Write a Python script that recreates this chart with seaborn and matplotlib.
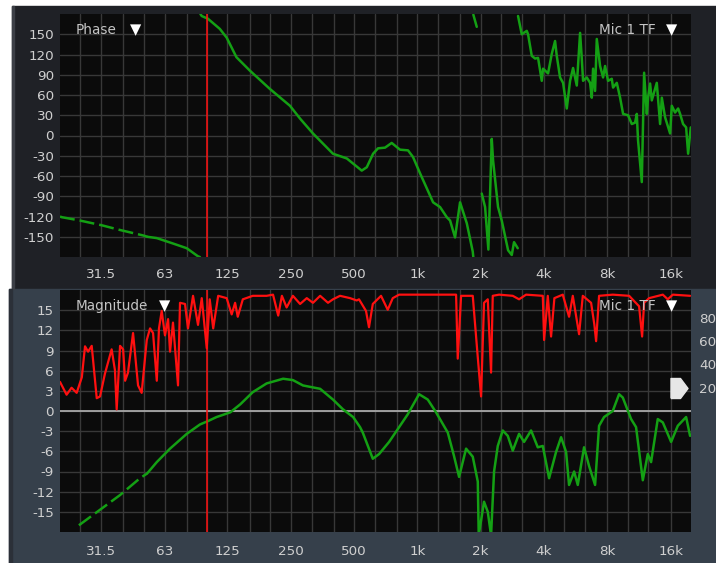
import numpy as np
import pandas as pd
import matplotlib.pyplot as plt
import seaborn as sns
from matplotlib.patches import Rectangle
from matplotlib.ticker import NullFormatter
from matplotlib.transforms import blended_transform_factory


# Axis layout values
freq_ticks = [31.5, 63, 125, 250, 500, 1000, 2000, 4000, 8000, 16000]
freq_labels = ["31.5", "63", "125", "250", "500", "1k", "2k", "4k", "8k", "16k"]
third_octaves = [25, 40, 50, 80, 100, 160, 200, 315, 400, 630, 800, 1250,
                 1600, 2500, 3150, 5000, 6300, 10000, 12500]
phase_ticks = [150, 120, 90, 60, 30, 0, -30, -60, -90, -120, -150]
mag_ticks = [15, 12, 9, 6, 3, 0, -3, -6, -9, -12, -15]
coh_ticks = [20, 40, 60, 80]
cursor_freq = 100
coh_marker_level = 20

# Phase trace (wrapped), one list pair per drawn piece
phase_a_freq = [20, 20.4, 24.9, 31.6, 38.6, 49.6, 52]
phase_a_deg = [-120, -121, -126, -133, -140, -148, -150]
phase_b_freq = [52, 57.7, 68.9, 80.1, 90.6, 92.5]
phase_b_deg = [-150, -152, -160, -167, -179, -180]
phase_c_freq = [93, 94.4, 101, 115, 124, 138, 160, 199, 248, 277, 319, 397,
                462, 544, 575, 616, 650, 702, 755, 827, 903, 954, 1030, 1188,
                1282, 1380, 1431, 1511, 1596, 1718, 1834, 1845]
phase_c_deg = [180, 177, 173, 158, 145, 116, 96, 69, 44, 25, 3, -27,
               -34, -52, -47, -27, -19, -18, -11, -21, -22, -32, -56, -99,
               -106, -121, -126, -151, -99, -130, -172, -180]
phase_d_freq = [1846, 1916]
phase_d_deg = [179, 161]
phase_e_freq = [2024, 2099, 2176, 2258, 2291, 2419, 2519, 2700, 2811, 2882, 3001]
phase_e_deg = [-86, -106, -169, -5, -37, -106, -126, -170, -177, -158, -167]
phase_f_freq = [3011, 3136, 3313, 3360, 3499, 3628, 3749, 3904, 3960, 4183,
                4356, 4516, 4601, 4770, 4930, 5133, 5322, 5500, 5728, 5939,
                6050, 6137, 6391, 6626, 6750, 6847, 6998, 7130, 7392, 7638,
                7807, 8068, 8402, 8523, 8876, 9203, 9509, 10040, 10460, 10840,
                11050, 11200, 11670, 11970, 12330, 12500, 12780, 13020, 13750, 14260,
                14530, 15060, 15910, 16210, 16800, 17370, 17750, 18340, 18960, 19380,
                19950]
phase_f_deg = [177, 150, 155, 150, 118, 114, 115, 81, 99, 92,
               121, 140, 118, 86, 78, 40, 81, 100, 74, 152,
               114, 81, 86, 78, 56, 99, 66, 143, 103, 86,
               103, 81, 84, 71, 78, 56, 32, 30, 17, 19,
               32, -7, -69, 93, 32, 56, 77, 52, 78, 17,
               56, 27, 3, 44, 34, 40, 32, 17, 12, -27,
               12]

# Magnitude trace (dB)
mag_low_freq = [24.6, 31.6, 38.6, 48.0, 51.9]
mag_low_db = [-17, -14.5, -12.5, -10, -9.3]
mag_freq = [51.9, 57.7, 66.7, 80.1, 92.6, 101, 111, 129, 144, 165,
            192, 230, 256, 286, 345, 397, 443, 495, 534, 550,
            614, 658, 734, 819, 900, 1019, 1121, 1227, 1395, 1494,
            1579, 1705, 1834, 1938, 1958, 2075, 2162, 2241, 2316, 2412,
            2547, 2691, 2842, 3045, 3216, 3473, 3737, 3948, 4230, 4565,
            4824, 5095, 5264, 5563, 5790, 6203, 6555, 6998, 7311, 7723,
            8494, 9102, 9478, 10380, 10960, 11800, 12460, 12920, 13900, 14690,
            16090, 17310, 18960, 19800]
mag_db = [-9.3, -7.6, -5.6, -3.4, -2.0, -1.5, -0.9, -0.2, 1.0, 2.8,
          4.1, 4.8, 4.6, 3.8, 3.3, 1.7, 0.25, -0.9, -2.4, -3.2,
          -7.1, -6.4, -4.6, -2.4, -0.5, 2.5, 1.7, -0.2, -3.2, -6.7,
          -9.8, -5.6, -6.8, -10.5, -18.5, -13.5, -15, -18.5, -9, -5.2,
          -2.9, -3.7, -5.9, -3.4, -4.6, -2.9, -5.4, -5.2, -10, -6.1,
          -3.9, -6.1, -11, -9, -11, -5.4, -8.2, -11, -2.2, -0.9,
          0, 2.5, 2, -1.2, -2.4, -10.3, -6.4, -7.6, -1.2, -1.7,
          -4.6, -2.2, -0.9, -3.7]

# Coherence trace (%)
coh_freq = [20, 21.5, 22.7, 24.0, 25.4, 26.3, 27.2, 28.3, 29.9, 31.0,
            32.7, 35.2, 36.5, 37.2, 38.6, 39.9, 40.8, 42.1, 44.5, 47.0,
            48.9, 51.7, 53.6, 55.4, 57.7, 59.1, 60.9, 63.1, 65.3, 66.7,
            68.9, 72.8, 74.4, 78.6, 81.2, 85.8, 90.6, 94.4, 99.7, 103,
            107, 113, 124, 131, 136, 140, 148, 165, 192, 206,
            218, 227, 239, 256, 277, 298, 319, 345, 376, 397,
            429, 479, 515, 528, 570, 589, 614, 672, 723, 764,
            819, 1528, 1556, 1614, 1834, 1938, 2009, 2075, 2162, 2241,
            2283, 2446, 2842, 3045, 3288, 3948, 4005, 4170, 4323, 4482,
            4914, 5264, 5483, 5874, 6117, 6699, 6946, 7077, 7311, 8494,
            10160, 11330, 11710, 11970, 12640, 14690, 15510, 16390, 19800]
coh_pct = [25, 14, 20, 15.6, 29, 55.6, 51, 56, 11, 12.5,
           32, 53, 35, 1.4, 56, 53, 26, 33, 67, 22,
           15.6, 61, 71, 67, 26, 71, 86, 65, 79, 51,
           76, 22, 93, 92, 71, 99, 74, 97, 54, 96,
           71, 99, 97, 83, 93, 81, 96, 99, 99, 100,
           82, 99, 89, 99, 92, 97, 93, 99, 93, 96,
           99, 97, 95, 96, 86, 72, 92, 99, 87, 97,
           100, 100, 45, 99, 99, 46, 12.5, 93, 96, 33,
           99, 100, 99, 96, 100, 99, 61, 99, 64, 97,
           100, 81, 99, 66, 99, 93, 74, 60, 99, 100,
           99, 90, 64, 93, 97, 100, 96, 100, 99]

GREEN = "#14a014"
RED = "#ff1010"
PLOT_BG = "#0b0b0b"
GRID = "#383838"
LABEL = "#cfcfcf"
DASH = (0, (6, 2))

sns.set_theme(style="dark")
plt.rcParams["font.family"] = ["DejaVu Sans"]
plt.rcParams["axes.unicode_minus"] = False


def style_axes(ax, yticks, ylim, xpad):
    ax.set_xscale("log")
    ax.set_xlim(20, 20000)
    ax.set_ylim(*ylim)
    ax.set_facecolor(PLOT_BG)
    ax.set_xticks(freq_ticks)
    ax.set_xticklabels(freq_labels)
    ax.set_xticks(third_octaves, minor=True)
    ax.xaxis.set_minor_formatter(NullFormatter())
    ax.set_yticks(yticks)
    ax.set_yticklabels([str(t) for t in yticks])
    ax.grid(True, which="both", color=GRID, lw=1.0)
    ax.tick_params(which="both", length=0, labelsize=9.7, labelcolor=LABEL)
    ax.tick_params(axis="y", pad=4.3)
    ax.tick_params(axis="x", pad=xpad)
    for sp in ax.spines.values():
        sp.set_visible(False)
    ax.set_xlabel("")
    ax.set_ylabel("")


def trace(ax, freq, vals, color, ls="-", lw=1.8):
    sns.lineplot(x=freq, y=vals, ax=ax, color=color, lw=lw, linestyle=ls,
                 estimator=None, errorbar=None, zorder=3)


def header(ax, left, left_tri):
    ax.text(0.024, 0.934, left, transform=ax.transAxes, color="#c4c4c4",
            fontsize=9.8, va="center", ha="left", zorder=6)
    ax.text(left_tri, 0.934, "\u25bc", transform=ax.transAxes, color="white",
            fontsize=10.5, va="center", ha="center", zorder=6)
    ax.text(0.9445, 0.934, "Mic 1 TF", transform=ax.transAxes, color="#c4c4c4",
            fontsize=9.8, va="center", ha="right", zorder=6)
    ax.text(0.970, 0.934, "\u25bc", transform=ax.transAxes, color="white",
            fontsize=10.5, va="center", ha="center", zorder=6)


fig = plt.figure(figsize=(7.16, 5.63), dpi=100, facecolor="white")
fig.patches.append(Rectangle((12 / 716, 1 - 289 / 563), 1, 283 / 563,
                             transform=fig.transFigure, color="#1f2126", zorder=-2))
fig.patches.append(Rectangle((9 / 716, 0), 1, 1 - 289 / 563,
                             transform=fig.transFigure, color="#36404b", zorder=-2))
fig.patches.append(Rectangle((12 / 716, 1 - 289 / 563), 1.6 / 716, 283 / 563,
                             transform=fig.transFigure, color="#3c3f46", zorder=-1))
fig.patches.append(Rectangle((9 / 716, 0), 3 / 716, 1 - 289 / 563,
                             transform=fig.transFigure, color="#2b3038", zorder=-1))

ax_ph = fig.add_axes([60 / 716, 1 - 257 / 563, 631 / 716, 243 / 563])
ax_mag = fig.add_axes([60 / 716, 1 - 532 / 563, 631 / 716, 242 / 563])

# Phase panel
trace(ax_ph, phase_a_freq, phase_a_deg, GREEN, DASH)
for f, d in [(phase_b_freq, phase_b_deg), (phase_c_freq, phase_c_deg),
             (phase_d_freq, phase_d_deg), (phase_e_freq, phase_e_deg),
             (phase_f_freq, phase_f_deg)]:
    trace(ax_ph, f, d, GREEN)
ax_ph.axvline(cursor_freq, color=RED, lw=1.1, zorder=4)
style_axes(ax_ph, phase_ticks, (-180, 180), 8)
header(ax_ph, "Phase", 0.119)

# Magnitude panel with coherence on a twin axis
ax_mag.set_xscale("log")
ax_coh = ax_mag.twinx()
trace(ax_mag, mag_low_freq, mag_low_db, GREEN, DASH)
trace(ax_mag, mag_freq, mag_db, GREEN)
ax_mag.axhline(0, color="#a8a8a8", lw=1.3, zorder=2)
ax_mag.axvline(cursor_freq, color=RED, lw=1.1, zorder=4)
trace(ax_coh, coh_freq, coh_pct, RED, lw=1.6)

style_axes(ax_mag, mag_ticks, (-18, 18), 9.5)

ax_coh.set_ylim(-104, 104)
ax_coh.set_yticks(coh_ticks)
ax_coh.set_yticklabels([str(t) for t in coh_ticks])
ax_coh.tick_params(axis="y", length=0, labelsize=9.7, labelcolor=LABEL, pad=5.8)
ax_coh.grid(False)
ax_coh.patch.set_visible(False)
ax_coh.set_ylabel("")
for sp in ax_coh.spines.values():
    sp.set_visible(False)

# coherence threshold handle on the right edge
arrow = [(-0.85, -1), (0.1, -1), (0.85, 0), (0.1, 1), (-0.85, 1), (-0.85, -1)]
ax_coh.plot([0.981], [coh_marker_level], marker=arrow, ms=14.4, color="#e6e6e6",
            mec="#e6e6e6", ls="none", clip_on=False, zorder=7,
            transform=blended_transform_factory(ax_coh.transAxes, ax_coh.transData))

header(ax_coh, "Magnitude", 0.165)

fig.savefig("out.png", dpi=100, facecolor=fig.get_facecolor())
